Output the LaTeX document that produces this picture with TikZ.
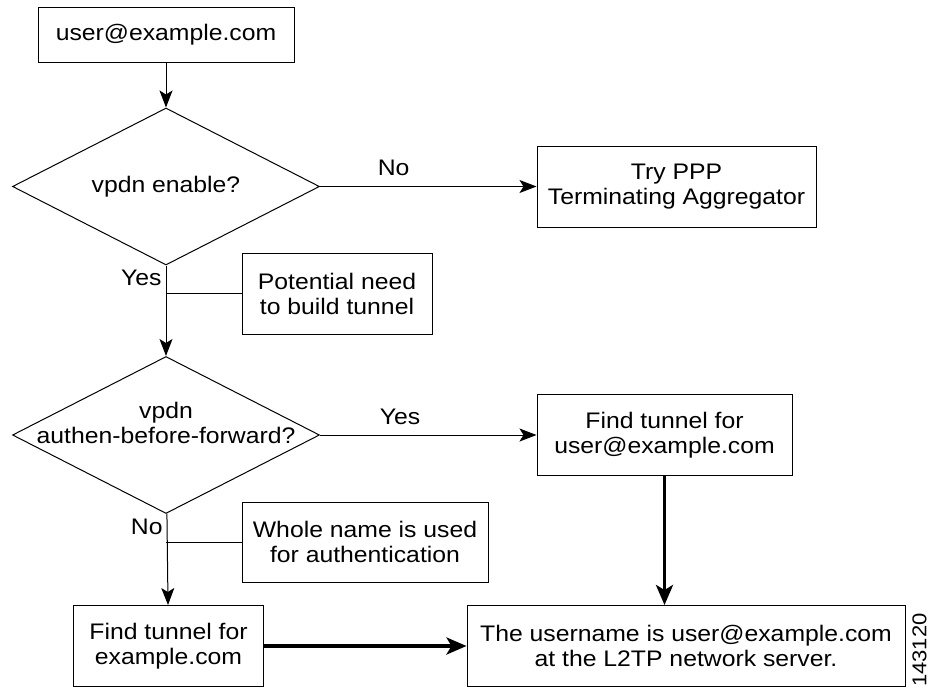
\documentclass[tikz,border=0pt]{standalone}
\usepackage{fontspec}
\setmainfont{Liberation Sans}[FakeStretch=1.1]
\usetikzlibrary{arrows.meta,shapes.geometric}

\begin{document}
\begin{tikzpicture}[x=1pt,y=-1pt,->,>={Stealth[length=17pt,width=13pt,inset=4pt]},line width=1pt,
  font=\fontsize{22.5}{25}\selectfont]
\tikzstyle{box}=[shape=rectangle,draw,align=center,inner sep=0pt]
\tikzstyle{decision}=[shape=diamond,draw,inner sep=0pt,minimum width=307pt,minimum height=157pt]
\tikzstyle{heavy}=[line width=3.5pt,-{Stealth[length=20pt,width=17pt,inset=5pt]}]
\tikzstyle{note}=[inner sep=4pt]

\useasboundingbox (0,0) rectangle (929,688);

\node[box]      (user)   at (166,34.5)  [minimum width=256pt,minimum height=55pt] {user@example.com};
\node[decision] (enable) at (166,186.5) [label=center:{vpdn enable?}] {};
\node[box]      (ppp)    at (676.5,186.5) [minimum width=279pt,minimum height=81pt] {Try PPP\\Terminating Aggregator};
\node[box]      (need)   at (337,293.5) [minimum width=190pt,minimum height=81pt] {Potential need\\to build tunnel};
\node[decision] (abf)    at (166,435)   [label={[align=center,yshift=12pt]center:vpdn\\authen-before-forward?}] {};
\node[box]      (tuser)  at (664.5,435) [minimum width=255pt,minimum height=81pt] {Find tunnel for\\user@example.com};
\node[box]      (whole)  at (365,542)   [minimum width=246pt,minimum height=80pt] {Whole name is used\\for authentication};
\node[box]      (tdom)   at (168.5,646) [minimum width=190pt,minimum height=81pt] {Find tunnel for\\example.com};
\node[box]      (result) at (686,646)   [minimum width=438pt,minimum height=81pt] {The username is user@example.com\\at the L2TP network server.};
\node[rotate=90,font=\fontsize{20}{20}\selectfont] (fig) at (919.5,650) {143120};

% decisions
\path
(user)   edge (enable)
(enable) edge node[note,pos=.34,above=6pt] {No} (ppp)
(enable) edge node[note,pos=.14,left] {Yes} (abf)
(abf)    edge node[note,pos=.37,above=6pt] {Yes} (tuser)
(abf)    edge node[note,pos=.15,left] {No} (tdom);

% side notes
\path[-]
(enable.south |- need.west) edge (need)
(abf.south |- whole.west)   edge (whole);

% tunnel lookups
\path[heavy]
(tuser.south) edge (tuser.south |- result.north)
(tdom)        edge (result);
\end{tikzpicture}
\end{document}
